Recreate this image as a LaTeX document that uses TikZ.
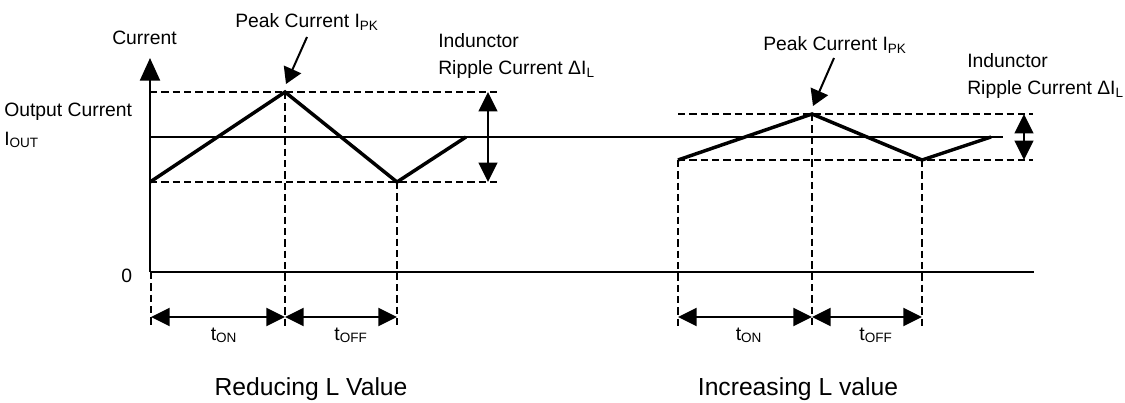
\documentclass[tikz,border=0pt]{standalone}
\usepackage{fontspec}
\setmainfont{Liberation Sans}
\usetikzlibrary{arrows.meta}
\begin{document}
\begin{tikzpicture}[x=0.75pt,y=-0.75pt,
  lbl/.style={font=\fontsize{14.5}{17}\selectfont, inner sep=0pt, anchor=base west},
  tlbl/.style={font=\fontsize{14.5}{17}\selectfont, inner sep=0pt, anchor=base},
  ttl/.style={font=\fontsize{18.5}{22}\selectfont, inner sep=0pt, anchor=base},
  axisline/.style={line width=1.7pt},
  ioutline/.style={line width=1.1pt},
  wave/.style={line width=2.6pt, line join=miter},
  guide/.style={line width=1.4pt, dash pattern=on 5.5pt off 3pt},
  yarrow/.style={line width=1.7pt, -{Triangle[length=17pt,width=15pt]}},
  tarrow/.style={line width=1.5pt, {Triangle[length=14pt,width=13.5pt]}-{Triangle[length=14pt,width=13.5pt]}},
  rarrow/.style={line width=1.5pt, {Triangle[length=14.5pt,width=14pt]}-{Triangle[length=14.5pt,width=14pt]}},
  parrow/.style={line width=1.5pt, -{Triangle[length=12pt,width=14pt]}},
]
\useasboundingbox (0,0) rectangle (1125,403);

% axes
\coordinate (O) at (150,272);
\coordinate (ytop) at (150,58);
\coordinate (xend) at (1034,272);
\coordinate (ioutL) at (150,137);
\coordinate (ioutR) at (1003,137);

% left waveform points
\coordinate (A0) at (150,182);
\coordinate (A1) at (285,92);
\coordinate (A2) at (397,182);
\coordinate (A3) at (466,137);
% right waveform points
\coordinate (B0) at (678,160);
\coordinate (B1) at (812,114);
\coordinate (B2) at (922,160);
\coordinate (B3) at (991,137);

% guide line ends
\coordinate (LTe) at (498,92);
\coordinate (LBe) at (498,182);
\coordinate (RTe) at (1033,114);
\coordinate (RBe) at (1033,160);

\coordinate (V0) at (151,328);
\coordinate (V0t) at (151,272);
\coordinate (V1) at (285,328);
\coordinate (V2) at (397,328);
\coordinate (V3) at (678,328);
\coordinate (V4) at (812,328);
\coordinate (V5) at (922,328);

\coordinate (T0) at (151,317);
\coordinate (T1) at (285,317);
\coordinate (T2) at (397,317);
\coordinate (T3) at (678,317);
\coordinate (T4) at (812,317);
\coordinate (T5) at (922,317);

\coordinate (RL1) at (488,92);
\coordinate (RL2) at (488,182);
\coordinate (RR1) at (1024,114);
\coordinate (RR2) at (1024,160);

\coordinate (PLs) at (307,37);
\coordinate (PLt) at (286,84);
\coordinate (PRs) at (834,58);
\coordinate (PRt) at (813,106);

% guides
\draw[guide] (A1 -| O) -- (LTe);
\draw[guide] (A0) -- (LBe);
\draw[guide] (B0) -- (RBe);
\draw[guide] (B0 |- B1) -- (RTe);
\draw[guide] (V0t) -- (V0);
\draw[guide] (A1) -- (V1);
\draw[guide] (A2) -- (V2);
\draw[guide] (B0) -- (V3);
\draw[guide] (B1) -- (V4);
\draw[guide] (B2) -- (V5);

% axes
\draw[axisline] (O) -- (xend);
\draw[yarrow] (O) -- (ytop);
\draw[ioutline] (ioutL) -- (ioutR);

% waveforms
\draw[wave] (A0) -- (A1) -- (A2) -- (A3);
\draw[wave] (B0) -- (B1) -- (B2) -- (B3);

% time arrows
\draw[tarrow] (T0) -- (T1);
\draw[tarrow] (T1) -- (T2);
\draw[tarrow] (T3) -- (T4);
\draw[tarrow] (T4) -- (T5);

% ripple arrows
\draw[rarrow] (RL1) -- (RL2);
\draw[rarrow] (RR1) -- (RR2);

% peak arrows
\draw[parrow] (PLs) -- (PLt);
\draw[parrow] (PRs) -- (PRt);

% labels
\node[lbl] (cur) at (112,45) {Current};
\node[lbl] (pkL) at (235,28) {Peak Current I\textsubscript{PK}};
\node[lbl] (pkR) at (763,51) {Peak Current I\textsubscript{PK}};
\node[lbl] (indL) at (438,48) {Indunctor};
\node[lbl] (ripL) at (438,75) {Ripple Current ΔI\textsubscript{L}};
\node[lbl] (indR) at (967,68) {Indunctor};
\node[lbl] (ripR) at (967,95) {Ripple Current ΔI\textsubscript{L}};
\node[lbl] (outc) at (4,117) {Output Current};
\node[lbl] (iout) at (4,145) {I\textsubscript{OUT}};
\node[lbl] (zero) at (121,282) {0};

\node[tlbl] (tonL) at (224,340) {t\textsubscript{ON}};
\node[tlbl] (toffL) at (351,340) {t\textsubscript{OFF}};
\node[tlbl] (tonR) at (749,340) {t\textsubscript{ON}};
\node[tlbl] (toffR) at (876,340) {t\textsubscript{OFF}};

\node[ttl] (titL) at (311,395) {Reducing L Value};
\node[ttl] (titR) at (798,395) {Increasing L value};
\end{tikzpicture}
\end{document}
